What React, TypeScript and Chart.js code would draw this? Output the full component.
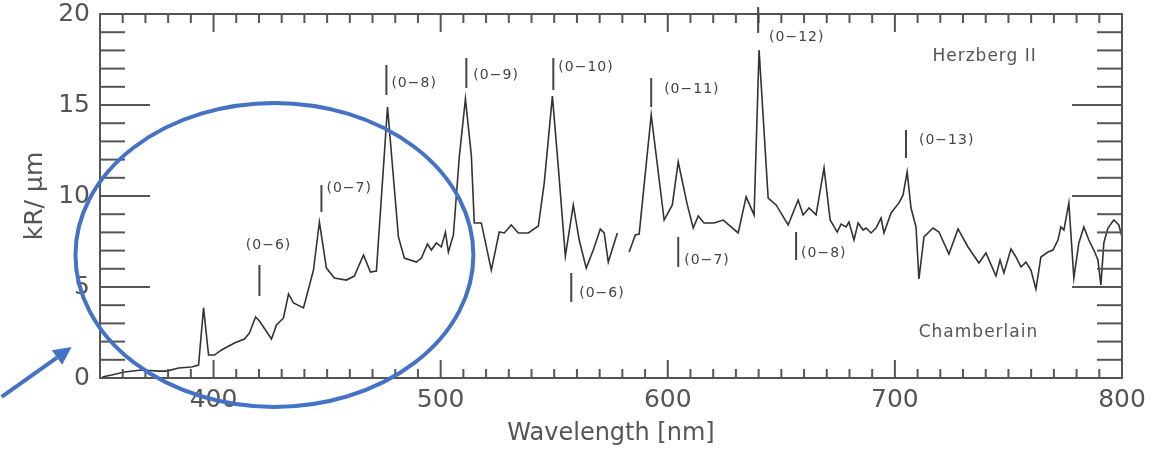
import React, { useEffect, useRef } from 'react';
import { Chart, registerables } from 'chart.js';

Chart.register(...registerables);

// Spectrum (wavelength in nm, intensity in kR/µm); null marks the gap in the data
const wavelengths = [
  351, 355.1, 360.8, 368.3, 375.8, 379.3, 384.6, 390.3, 393.4, 395.6, 397.8, 400.4, 403.5, 409.2, 413.6,
  415.8, 418.5, 420.2, 425.5, 427.7, 430.8, 433, 435.2, 439.6, 444, 446.6, 449.7, 453.2, 458.5, 462,
  466, 469.1, 471.7, 476.6, 481.4, 484, 489.3, 491.5, 494.2, 495.9, 498.1, 500.3, 502.1, 503.4, 505.6,
  508.2, 510.9, 513.5, 514.8, 517.9, 522.3, 525.8, 528, 531.1, 534.2, 538.6, 543, 545.6, 549.2, 551.8,
  554.9, 558.4, 561, 564.1, 567.2, 570.3, 572, 573.8, 577.8, 580, 583, 585.7, 587.4, 592.7, 598.4,
  602, 604.6, 608.6, 611.2, 613.4, 616, 620.4, 624.4, 631, 634.5, 638, 640.2, 644.2, 647.7, 653,
  657.4, 659.6, 662.2, 665.3, 668.8, 671.5, 674.6, 676.3, 678.5, 679.8, 682, 683.8, 686, 687.3, 689.5,
  691.7, 693.9, 695.2, 698.3, 701.8, 703.6, 705.4, 707.1, 709.3, 710.6, 712.8, 716.8, 719.4, 723.8, 727.8,
  732.2, 737, 740.1, 744.5, 746.3, 748, 751.1, 753.3, 755.5, 757.7, 759.9, 762.1, 764.3, 767.4, 769.6,
  771.8, 773.1, 774.4, 776.6, 778.8, 781, 783.2, 785.4, 787.6, 789.4, 790.7, 792, 793.8, 796.4, 798.6, 800,
];
const intensities = [
  0.05, 0.16, 0.33, 0.44, 0.38, 0.38, 0.55, 0.6, 0.71, 3.85, 1.26, 1.26, 1.54, 1.92, 2.14,
  2.47, 3.35, 3.13, 2.14, 2.91, 3.3, 4.62, 4.12, 3.85, 5.93, 8.57, 6.04, 5.49, 5.38, 5.6,
  6.76, 5.82, 5.88, 14.89, 7.75, 6.59, 6.37, 6.59, 7.36, 7.03, 7.42, 7.2, 8.02, 6.92, 7.86,
  12.14, 15.33, 12.25, 8.52, 8.52, 5.93, 8.02, 7.97, 8.41, 7.97, 7.97, 8.35, 10.71, 15.49, 11.59,
  6.7, 9.51, 7.58, 6.04, 7.03, 8.19, 7.97, 6.37, 7.97, null, 6.92, 7.86, 7.91, 14.45, 8.68,
  9.51, 11.87, 9.51, 8.24, 8.9, 8.52, 8.52, 8.68, 7.97, 9.95, 8.96, 18.02, 9.89, 9.51, 8.41,
  9.78, 8.96, 9.34, 8.96, 11.54, 8.68, 8.02, 8.46, 8.3, 8.57, 7.58, 8.52, 8.13, 8.24, 7.97,
  8.24, 8.79, 7.97, 9.07, 9.62, 10.06, 11.32, 9.34, 8.3, 5.44, 7.75, 8.24, 8.02, 6.81, 8.19,
  7.2, 6.32, 6.87, 5.6, 6.48, 5.77, 7.09, 6.65, 6.1, 6.37, 5.93, 4.89, 6.65, 6.92, 7.03,
  7.58, 8.3, 8.13, 9.62, 5.49, 7.42, 8.3, 7.58, 7.03, 6.48, 5.11, 7.42, 8.24, 8.68, 8.41, 7.75,
];

const xTickValues = [400, 500, 600, 700, 800];
const yTickValues = [0, 5, 10, 15, 20];

// Band identifications: marker line (wavelength, top, bottom) and label anchor
const bandNames = ['(0−6)', '(0−7)', '(0−8)', '(0−9)', '(0−10)', '(0−11)', '(0−12)', '(0−13)', '(0−6)', '(0−7)', '(0−8)'];
const bandWl = [420.2, 447.5, 476.1, 511.3, 549.6, 592.7, 639.8, 704.9, 557.5, 604.6, 656.5];
const bandTop = [6.21, 10.6, 17.2, 17.58, 17.58, 16.48, 20.38, 13.63, 5.77, 7.75, 8.02];
const bandBottom = [4.51, 9.12, 15.55, 15.93, 15.82, 14.89, 18.96, 12.09, 4.18, 6.1, 6.48];
const bandLabelWl = [424.2, 449.7, 478.3, 514.4, 551.8, 598.4, 644.6, 710.6, 561, 607.3, 658.7];
const bandLabelY = [7.31, 10.44, 16.21, 16.65, 17.09, 15.88, 18.74, 13.08, 4.67, 6.48, 6.87];
const bandAlign = ['center', 'left', 'left', 'left', 'left', 'left', 'left', 'left', 'left', 'left', 'left'];

const systemNames = ['Herzberg II', 'Chamberlain'];
const systemWl = [739.5, 736.8];
const systemY = [17.64, 2.47];

// Highlight ellipse and arrow (in data units)
const ellipseCenter = [426.8, 6.76];
const ellipseRadii = [87.6, 8.35];
const arrowFrom = [306.7, -1.04];
const arrowTo = [337.5, 1.7];

const FONT = "'DejaVu Sans', sans-serif";

const decorPlugin = {
  id: 'decor',
  afterDatasetsDraw(chart: any) {
    const { ctx, chartArea, scales } = chart;
    const { left, right, top, bottom } = chartArea;
    const x = scales.x;
    const y = scales.y;
    const line = (x1: number, y1: number, x2: number, y2: number) => {
      ctx.beginPath();
      ctx.moveTo(x1, y1);
      ctx.lineTo(x2, y2);
      ctx.stroke();
    };
    ctx.save();
    ctx.strokeStyle = '#555';
    ctx.lineWidth = 2;
    ctx.strokeRect(left, top, right - left, bottom - top);
    for (let v = 1; v < 20; v++) {
      const py = y.getPixelForValue(v);
      const len = v % 5 === 0 ? 50 : 25;
      line(left, py, left + len, py);
      line(right, py, right - len, py);
    }
    for (let v = 360; v < 800; v += 10) {
      const px = x.getPixelForValue(v);
      const len = v % 100 === 0 ? 18 : 9;
      line(px, bottom, px, bottom - len);
      line(px, top, px, top + len);
    }
    // band markers and labels
    ctx.strokeStyle = '#444';
    ctx.lineWidth = 2;
    ctx.fillStyle = '#444';
    ctx.font = `14px ${FONT}`;
    (ctx as any).letterSpacing = '1px';
    ctx.textBaseline = 'middle';
    for (let i = 0; i < bandNames.length; i++) {
      const px = x.getPixelForValue(bandWl[i]);
      line(px, y.getPixelForValue(bandTop[i]), px, y.getPixelForValue(bandBottom[i]));
      ctx.textAlign = bandAlign[i] as CanvasTextAlign;
      ctx.fillText(bandNames[i], x.getPixelForValue(bandLabelWl[i]), y.getPixelForValue(bandLabelY[i]));
    }
    ctx.fillStyle = '#555';
    ctx.font = `17px ${FONT}`;
    ctx.textAlign = 'center';
    for (let i = 0; i < systemNames.length; i++) {
      ctx.fillText(systemNames[i], x.getPixelForValue(systemWl[i]), y.getPixelForValue(systemY[i]));
    }
    ctx.restore();
  },
  afterDraw(chart: any) {
    const { ctx, scales } = chart;
    const x = scales.x;
    const y = scales.y;
    ctx.save();
    ctx.strokeStyle = '#4472C4';
    ctx.fillStyle = '#4472C4';
    ctx.lineWidth = 4;
    const cx = x.getPixelForValue(ellipseCenter[0]);
    const cy = y.getPixelForValue(ellipseCenter[1]);
    const rx = x.getPixelForValue(ellipseCenter[0] + ellipseRadii[0]) - cx;
    const ry = cy - y.getPixelForValue(ellipseCenter[1] + ellipseRadii[1]);
    ctx.beginPath();
    ctx.ellipse(cx, cy, rx, ry, 0, 0, Math.PI * 2);
    ctx.stroke();
    const ax = x.getPixelForValue(arrowFrom[0]);
    const ay = y.getPixelForValue(arrowFrom[1]);
    const bx = x.getPixelForValue(arrowTo[0]);
    const by = y.getPixelForValue(arrowTo[1]);
    const dx = bx - ax;
    const dy = by - ay;
    const n = Math.hypot(dx, dy);
    const ux = dx / n;
    const uy = dy / n;
    const headLen = 18;
    const headW = 9;
    const baseX = bx - ux * headLen;
    const baseY = by - uy * headLen;
    ctx.beginPath();
    ctx.moveTo(ax, ay);
    ctx.lineTo(baseX, baseY);
    ctx.stroke();
    ctx.beginPath();
    ctx.moveTo(bx, by);
    ctx.lineTo(baseX - uy * headW, baseY + ux * headW);
    ctx.lineTo(baseX + uy * headW, baseY - ux * headW);
    ctx.closePath();
    ctx.fill();
    ctx.restore();
  },
};

export default function App() {
  const canvasRef = useRef<HTMLCanvasElement | null>(null);

  useEffect(() => {
    if (!canvasRef.current) return;
    const data = wavelengths.map((w, i) => ({ x: w, y: intensities[i] }));
    const chart = new Chart(canvasRef.current, {
      type: 'line',
      data: {
        datasets: [
          {
            data: data as any,
            borderColor: '#333',
            borderWidth: 1.6,
            pointRadius: 0,
            tension: 0,
            spanGaps: false,
          },
        ],
      },
      options: {
        animation: false,
        responsive: true,
        maintainAspectRatio: false,
        layout: { padding: { top: 14, right: 32, left: 0, bottom: 0 } },
        plugins: { legend: { display: false }, tooltip: { enabled: false } },
        scales: {
          x: {
            type: 'linear',
            min: 350,
            max: 800,
            grid: { display: false, drawTicks: false },
            border: { display: false },
            afterBuildTicks: (scale: any) => {
              scale.ticks = xTickValues.map((v) => ({ value: v }));
            },
            afterFit: (scale: any) => {
              scale.height = 73;
              scale.paddingLeft = 0;
              scale.paddingRight = 0;
            },
            ticks: {
              padding: 10,
              color: '#555',
              maxRotation: 0,
              font: { family: FONT, size: 25, lineHeight: 1 },
            },
            title: {
              display: true,
              text: 'Wavelength [nm]',
              color: '#555',
              font: { family: FONT, size: 24, lineHeight: 1.2 },
              padding: { top: 0, bottom: 3 },
            },
          },
          y: {
            type: 'linear',
            min: 0,
            max: 20,
            grid: { display: false, drawTicks: false },
            border: { display: false },
            afterBuildTicks: (scale: any) => {
              scale.ticks = yTickValues.map((v) => ({ value: v }));
            },
            afterFit: (scale: any) => {
              scale.width = 100;
              scale.paddingTop = 0;
              scale.paddingBottom = 0;
            },
            ticks: {
              padding: 10,
              color: '#555',
              font: { family: FONT, size: 25, lineHeight: 1 },
            },
            title: {
              display: true,
              text: 'kR/ μm',
              color: '#555',
              font: { family: FONT, size: 25, lineHeight: 1.2 },
              padding: { top: 20, bottom: 0 },
            },
          },
        },
      },
      plugins: [decorPlugin],
    });
    return () => chart.destroy();
  }, []);

  return (
    <div style={{ position: 'fixed', left: 0, top: 0, width: 1154, height: 451, background: '#fff' }}>
      <canvas ref={canvasRef} />
    </div>
  );
}
